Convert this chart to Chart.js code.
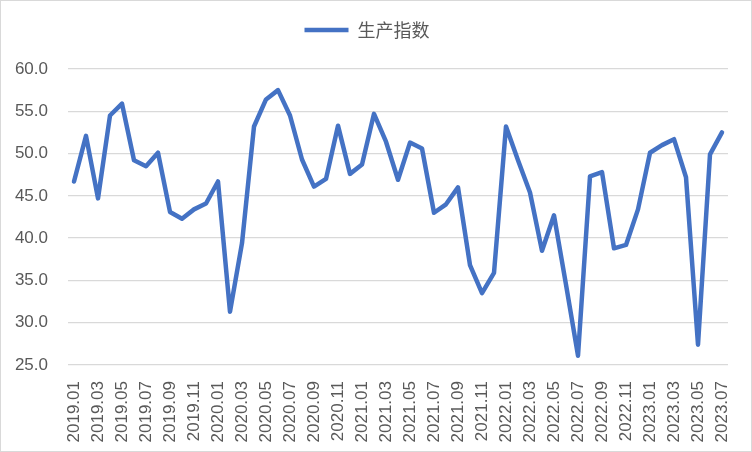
<!DOCTYPE html>
<html>
<head>
<meta charset="utf-8">
<script src="https://cdn.jsdelivr.net/npm/chart.js@4/dist/chart.umd.min.js"></script>
<style>
  html, body { margin: 0; padding: 0; background: #fff; }
  #wrap { position: relative; width: 752px; height: 452px; }
  #frame { position: absolute; left: 0; top: 0; width: 750px; height: 450px; border: 1px solid #d9d9d9; pointer-events: none; }
</style>
</head>
<body>
<div id="wrap">
  <canvas id="c" width="752" height="452"></canvas>
  <div id="frame"></div>
</div>
<script>
const seriesName = '生产指数';
const categories = [
  '2019.01','2019.02','2019.03','2019.04','2019.05','2019.06','2019.07','2019.08','2019.09','2019.10','2019.11','2019.12',
  '2020.01','2020.02','2020.03','2020.04','2020.05','2020.06','2020.07','2020.08','2020.09','2020.10','2020.11','2020.12',
  '2021.01','2021.02','2021.03','2021.04','2021.05','2021.06','2021.07','2021.08','2021.09','2021.10','2021.11','2021.12',
  '2022.01','2022.02','2022.03','2022.04','2022.05','2022.06','2022.07','2022.08','2022.09','2022.10','2022.11','2022.12',
  '2023.01','2023.02','2023.03','2023.04','2023.05','2023.06','2023.07'
];
const productionIndex = [
  46.7, 52.1, 44.7, 54.5, 55.9, 49.2, 48.5, 50.1, 43.1, 42.3, 43.4, 44.1,
  46.7, 31.3, 39.4, 53.2, 56.4, 57.5, 54.5, 49.3, 46.1, 47.0, 53.3, 47.6,
  48.7, 54.7, 51.4, 46.9, 51.3, 50.6, 43.0, 44.0, 46.0, 36.8, 33.5, 35.9,
  53.2, 49.2, 45.4, 38.5, 42.7, 34.5, 26.1, 47.3, 47.8, 38.8, 39.2, 43.4,
  50.1, 51.0, 51.7, 47.2, 27.4, 49.9, 52.5
];
const yMin = 25, yMax = 60, yStep = 5;

const tickFont = { family: '"Liberation Sans", Arial, sans-serif', size: 17 };
const gray = '#595959';

const legendSpacer = {
  id: 'legendSpacer',
  afterInit(chart) {
    const lg = chart.legend;
    if (!lg) return;
    const orig = lg.fit;
    lg.fit = function () { orig.call(this); this.height += 20; };
  }
};

new Chart(document.getElementById('c'), {
  type: 'line',
  data: {
    labels: categories,
    datasets: [{
      label: seriesName,
      data: productionIndex,
      borderColor: '#4472C4',
      backgroundColor: '#4472C4',
      borderWidth: 4.5,
      pointRadius: 0,
      pointHoverRadius: 0,
      tension: 0,
      borderJoinStyle: 'round',
      borderCapStyle: 'round',
      fill: false
    }]
  },
  plugins: [legendSpacer],
  options: {
    responsive: false,
    animation: false,
    devicePixelRatio: 1,
    layout: { padding: { top: 11, right: 24, bottom: 0, left: 6 } },
    plugins: {
      tooltip: { enabled: false },
      legend: {
        position: 'top',
        labels: {
          color: gray,
          font: { family: '"Noto Sans CJK SC", sans-serif', size: 18 },
          usePointStyle: true,
          pointStyle: 'line',
          pointStyleWidth: 44,
          padding: 10
        }
      }
    },
    scales: {
      x: {
        offset: true,
        grid: { display: false },
        border: { display: false },
        ticks: {
          color: gray,
          font: tickFont,
          autoSkip: false,
          maxRotation: 90,
          minRotation: 90,
          padding: 8,
          callback: function (v, i) { return i % 2 === 0 ? categories[i] : ''; }
        },
        afterFit: function (s) { s.height = 87; }
      },
      y: {
        min: yMin,
        max: yMax,
        grid: { color: '#d9d9d9', lineWidth: 1.3, drawTicks: false },
        border: { display: false },
        ticks: {
          stepSize: yStep,
          color: gray,
          font: tickFont,
          padding: 20,
          callback: function (v) { return Number(v).toFixed(1); }
        },
        afterFit: function (s) { s.width = 62; }
      }
    }
  }
});
</script>
</body>
</html>
